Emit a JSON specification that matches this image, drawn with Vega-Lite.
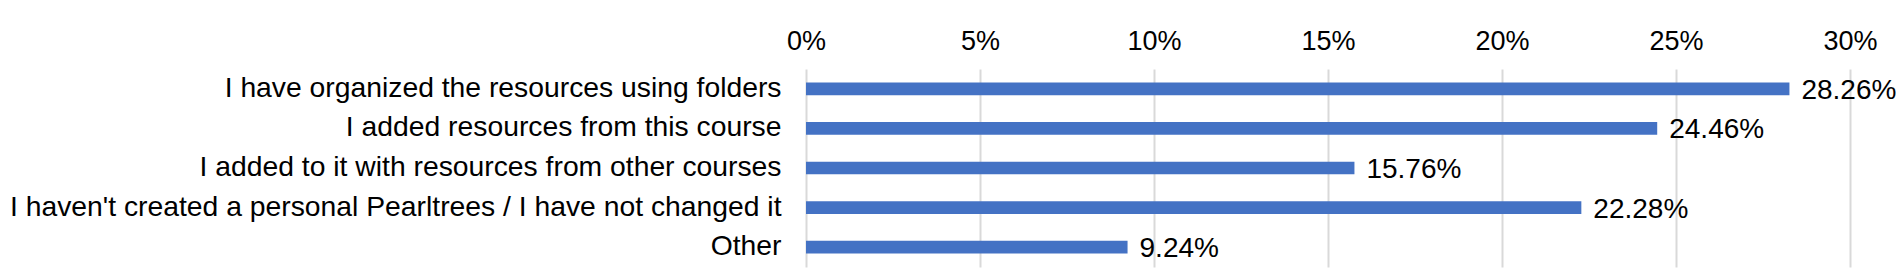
{
  "$schema": "https://vega.github.io/schema/vega-lite/v6.json",
  "autosize": {"type": "none"},
  "width": 1044,
  "height": 198,
  "padding": {"left": 806, "top": 69, "right": 46, "bottom": 3},
  "background": "white",
  "config": {
    "view": {"stroke": null},
    "font": "Liberation Sans"
  },
  "data": {
    "values": [
      {"category": "I have organized the resources using folders", "pct": 0.2826},
      {"category": "I added resources from this course", "pct": 0.2446},
      {"category": "I added to it with resources from other courses", "pct": 0.1576},
      {"category": "I haven't created a personal Pearltrees / I have not changed it", "pct": 0.2228},
      {"category": "Other", "pct": 0.0924}
    ]
  },
  "encoding": {
    "y": {
      "field": "category",
      "type": "nominal",
      "sort": null,
      "scale": {"paddingInner": 0.68, "paddingOuter": 0.34},
      "axis": {
        "title": null,
        "domain": false,
        "ticks": false,
        "tickSize": 0,
        "labelPadding": 25,
        "labelFont": "Liberation Sans",
        "labelFontSize": 28.3,
        "labelColor": "#000000",
        "labelLimit": 0
      }
    },
    "x": {
      "field": "pct",
      "type": "quantitative",
      "scale": {"domain": [0, 0.3], "nice": false},
      "axis": {
        "orient": "top",
        "title": null,
        "format": ".0%",
        "values": [0, 0.05, 0.1, 0.15, 0.2, 0.25, 0.3],
        "domain": false,
        "ticks": false,
        "tickSize": 0,
        "labelFlush": false,
        "labelPadding": 14,
        "labelFont": "Liberation Sans",
        "labelFontSize": 27,
        "labelColor": "#000000",
        "grid": true,
        "gridColor": "#d9d9d9",
        "gridWidth": 2
      }
    }
  },
  "layer": [
    {"mark": {"type": "bar", "color": "#4472C4"}},
    {
      "mark": {"type": "text", "align": "left", "baseline": "middle", "dx": 12, "dy": 2, "fontSize": 28, "font": "Liberation Sans", "color": "#000000"},
      "encoding": {"text": {"field": "pct", "type": "quantitative", "format": ".2%"}}
    }
  ]
}
